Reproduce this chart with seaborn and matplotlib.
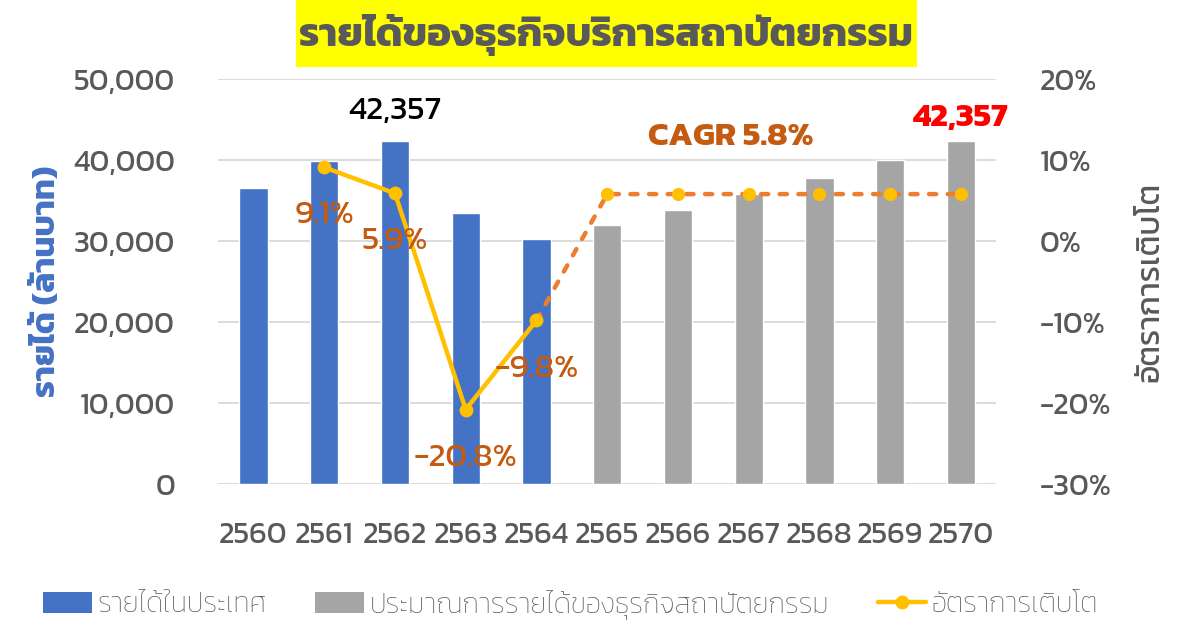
import numpy as np
import pandas as pd
import matplotlib
matplotlib.use('Agg')
import matplotlib.pyplot as plt
from matplotlib.patches import Patch, Rectangle
from matplotlib.lines import Line2D
from matplotlib.ticker import FuncFormatter
import seaborn as sns

# Data
years = ['2560', '2561', '2562', '2563', '2564', '2565', '2566', '2567', '2568', '2569', '2570']
revenue = [36600, 39900, 42357, 33500, 30200, 31950, 33800, 35760, 37830, 40030, 42357]
kind = ['actual'] * 5 + ['forecast'] * 6
growth_actual = [9.1, 5.9, -20.8, -9.8]          # 2561-2564
growth_actual_labels = ['9.1%', '5.9%', '-20.8%', '-9.8%']
growth_forecast = [-9.8, 5.8, 5.8, 5.8, 5.8, 5.8, 5.8]  # 2564-2570

title = 'รายได้ของธุรกิจบริการสถาปัตยกรรม'
ylabel_left = 'รายได้ (ล้านบาท)'
ylabel_right = 'อัตราการเติบโต'
legend_labels = ['รายได้ในประเทศ', 'ประมาณการรายได้ของธุรกิจสถาปัตยกรรม', 'อัตราการเติบโต']

blue = '#4472C4'
gray = '#A5A5A5'
yellow = '#FFC000'
orange = '#ED7D31'
brown = '#C55A11'
txtgray = '#595959'

sns.set_style('white')
plt.rcParams['font.family'] = ['Kanit', 'DejaVu Sans']
plt.rcParams['axes.unicode_minus'] = False

df = pd.DataFrame({'year': years, 'revenue': revenue, 'kind': kind})

fig = plt.figure(figsize=(11.79, 6.21), dpi=100)
ax = fig.add_axes([0.185, 0.2206, 0.660, 0.652])

sns.barplot(data=df, x='year', y='revenue', hue='kind', palette={'actual': blue, 'forecast': gray},
            dodge=False, width=0.4, saturation=1, ax=ax, legend=False, zorder=2)
ax.set_ylim(0, 50000)
ax.set_xlim(-0.5, 10.5)
ax.set_yticks(np.arange(0, 50001, 10000))
ax.yaxis.set_major_formatter(FuncFormatter(lambda v, p: f'{int(v):,}'))
ax.grid(axis='y', color='#D9D9D9', linewidth=1.3, zorder=0)
ax.set_axisbelow(True)
for s in ax.spines.values():
    s.set_visible(False)
ax.tick_params(axis='both', length=0, labelsize=22, labelcolor=txtgray)
ax.tick_params(axis='x', pad=27)
ax.tick_params(axis='y', pad=31)
ax.set_xlabel('')
ax.set_ylabel(ylabel_left, color=blue, fontsize=24, fontweight='bold')
ax.yaxis.set_label_coords(-0.20, 0.5)

# value labels
ax.annotate(f'{revenue[2]:,}', (2, revenue[2]), xytext=(0, 21), textcoords='offset points',
            ha='center', va='center', fontsize=24, color='black')
ax.annotate(f'{revenue[10]:,}', (10, revenue[10]), xytext=(0, 16), textcoords='offset points',
            ha='center', va='center', fontsize=24, color='red', fontweight='bold')

# growth on secondary axis
ax2 = ax.twinx()
ax2.set_ylim(-30, 20)
ax2.set_yticks(np.arange(-30, 21, 10))
ax2.yaxis.set_major_formatter(FuncFormatter(lambda v, p: f'{int(v)}%'))
for s in ax2.spines.values():
    s.set_visible(False)
ax2.tick_params(axis='y', length=0, labelsize=22, labelcolor=txtgray, pad=31)
ax2.set_ylabel(ylabel_right, color=txtgray, fontsize=23, rotation=90)
ax2.yaxis.set_label_coords(1.18, 0.5)

x_fc = np.arange(4, 11)
x_act = np.arange(1, 5)
sns.lineplot(x=x_fc, y=growth_forecast, ax=ax2, color=orange, linewidth=3.2,
             linestyle=(0, (1.6, 2.6)), dash_capstyle='round', zorder=3)
ax2.plot(x_fc[1:], growth_forecast[1:], linestyle='none', marker='o', markersize=9.5,
         markeredgewidth=0, color=yellow, zorder=4)
sns.lineplot(x=x_act, y=growth_actual, ax=ax2, color=yellow, linewidth=3.2,
             marker='o', markersize=10, markeredgewidth=0, zorder=5)

for xi, yi, lab in zip(x_act, growth_actual, growth_actual_labels):
    ax2.annotate(lab, (xi, yi), xytext=(0, -35), textcoords='offset points',
                 ha='center', va='center', fontsize=24, color=brown, zorder=6)

ax2.text(6.74, 12.8, 'CAGR 5.8%', ha='center', va='center', fontsize=24,
         fontweight='bold', color=brown)

# title
fig.patches.append(Rectangle((0.251, 0.892), 0.527, 0.11, transform=fig.transFigure,
                             facecolor='#FFFF00', edgecolor='none', zorder=0))
fig.text(0.5144, 0.944, title, ha='center', va='center', fontsize=29, fontweight='bold',
         color=txtgray)

handles = [Patch(facecolor=blue, edgecolor='none'),
           Patch(facecolor=gray, edgecolor='none'),
           Line2D([0], [0], color=yellow, linewidth=3.2, marker='o', markersize=9)]
leg = fig.legend(handles, legend_labels, loc='center', bbox_to_anchor=(0.484, 0.027), ncol=3,
                 frameon=False, fontsize=20, labelcolor=txtgray, handlelength=1.75,
                 handleheight=0.75, handletextpad=0.2, columnspacing=1.75)
for t in leg.get_texts():
    t.set_fontweight('light')

fig.savefig('out.png', dpi=100)
